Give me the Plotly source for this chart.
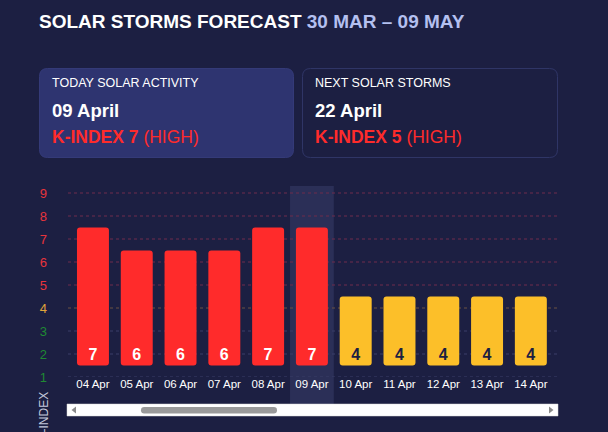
import plotly.graph_objects as go

# ---------------- data ----------------
dates = ["04 Apr", "05 Apr", "06 Apr", "07 Apr", "08 Apr", "09 Apr",
         "10 Apr", "11 Apr", "12 Apr", "13 Apr", "14 Apr"]
k_index = [7, 6, 6, 6, 7, 7, 4, 4, 4, 4, 4]
k_levels = [1, 2, 3, 4, 5, 6, 7, 8, 9]
today = "09 Apr"

title_main = "SOLAR STORMS FORECAST"
title_range = "30 MAR \u2013 09 MAY"
card1_head, card1_date, card1_k, card1_lvl = "TODAY SOLAR ACTIVITY", "09 April", 7, "HIGH"
card2_head, card2_date, card2_k, card2_lvl = "NEXT SOLAR STORMS", "22 April", 5, "HIGH"

# ---------------- styles ----------------
BG = "#1c1f42"
RED = "#ff2b2b"
YEL = "#fcbf29"
FONT = "Liberation Sans, Arial, sans-serif"


def level_color(k):
    if k >= 5:
        return "#e8343c"
    if k == 4:
        return "#e0a53a"
    return "#1f8a33"


def grid_color(k):
    if k >= 5:
        return "#6e2c4c"
    if k == 4:
        return "#6a5242"
    return "#3a3f68"


W, H = 608, 432
L, R, T, B = 68, 558, 186, 377   # plot area in pixels


def px(X):
    return (X - L) / (R - L)


def py(Y):
    return (B - Y) / (B - T)


def rrect(x0, y0, x1, y1, r):
    # rounded rectangle path in paper coords from pixel coords
    pts = [
        f"M {px(x0 + r)},{py(y0)}",
        f"L {px(x1 - r)},{py(y0)}",
        f"Q {px(x1)},{py(y0)} {px(x1)},{py(y0 + r)}",
        f"L {px(x1)},{py(y1 - r)}",
        f"Q {px(x1)},{py(y1)} {px(x1 - r)},{py(y1)}",
        f"L {px(x0 + r)},{py(y1)}",
        f"Q {px(x0)},{py(y1)} {px(x0)},{py(y1 - r)}",
        f"L {px(x0)},{py(y0 + r)}",
        f"Q {px(x0)},{py(y0)} {px(x0 + r)},{py(y0)}",
        "Z",
    ]
    return " ".join(pts)


bar_colors = [RED if v >= 5 else YEL for v in k_index]
text_colors = ["#ffffff" if v >= 5 else BG for v in k_index]

fig = go.Figure()
fig.add_trace(go.Bar(
    x=dates,
    y=[v - 1 for v in k_index],
    base=1,
    marker=dict(color=bar_colors, line=dict(width=0), cornerradius=3),
    width=0.73,
    text=[f"<b>{v}</b>" for v in k_index],
    textposition="inside",
    insidetextanchor="start",
    textangle=0,
    constraintext="none",
    textfont=dict(color=text_colors, size=16, family=FONT),
    hoverinfo="skip",
))

shapes = []
# highlight column for today
ti = dates.index(today)
shapes.append(dict(type="rect", xref="x", yref="paper", x0=ti - 0.5, x1=ti + 0.5,
                   y0=py(405), y1=1.0, fillcolor="#2b2f57",
                   line=dict(width=0), layer="below"))
# dotted grid lines
for k in k_levels:
    shapes.append(dict(type="line", xref="paper", yref="y", x0=0, x1=1,
                       y0=k - 0.5, y1=k - 0.5,
                       line=dict(color=grid_color(k), width=1, dash="dot"),
                       layer="below"))
# cards
shapes.append(dict(type="path", xref="paper", yref="paper",
                   path=rrect(39.5, 68.5, 293.5, 157.5, 8),
                   fillcolor="#2e3470", line=dict(color="#343a78", width=1)))
shapes.append(dict(type="path", xref="paper", yref="paper",
                   path=rrect(302.5, 68.5, 557.5, 157.5, 8),
                   fillcolor=BG, line=dict(color="#2f3566", width=1)))
# scrollbar
shapes.append(dict(type="rect", xref="paper", yref="paper",
                   x0=px(67), x1=px(558), y0=py(416), y1=py(404),
                   fillcolor="#ffffff", line=dict(color="#d8d8d8", width=0.5)))
shapes.append(dict(type="path", xref="paper", yref="paper",
                   path=rrect(141, 407, 277, 413.5, 3.2),
                   fillcolor="#9a9a9a", line=dict(width=0)))
shapes.append(dict(type="path", xref="paper", yref="paper",
                   path=f"M {px(76)},{py(406.5)} L {px(76)},{py(413.5)} L {px(71.5)},{py(410)} Z",
                   fillcolor="#8a8a8a", line=dict(width=0)))
shapes.append(dict(type="path", xref="paper", yref="paper",
                   path=f"M {px(549)},{py(406.5)} L {px(549)},{py(413.5)} L {px(553.5)},{py(410)} Z",
                   fillcolor="#8a8a8a", line=dict(width=0)))

ann = []


def text(X, Y, s, size, color="#ffffff", anchor="left"):
    ann.append(dict(xref="paper", yref="paper", x=px(X), y=py(Y), text=s,
                    showarrow=False, xanchor=anchor, yanchor="middle",
                    font=dict(family=FONT, size=size, color=color)))


text(37, 21.5, f"<b>{title_main} <span style='color:#b4c0f0'>{title_range}</span></b>", 19)
text(50, 83, card1_head, 12.5)
text(50, 110, f"<b>{card1_date}</b>", 18.5)
text(50, 137, f"<b>K-INDEX {card1_k}</b> ({card1_lvl})", 17.5, RED)
text(313, 83, card2_head, 12.5)
text(313, 110, f"<b>{card2_date}</b>", 18.5)
text(313, 137, f"<b>K-INDEX {card2_k}</b> ({card2_lvl})", 17.5, RED)

ann.append(dict(xref="paper", yref="paper", x=px(43), y=py(390), text="K-INDEX",
                showarrow=False, textangle=-90, xanchor="center", yanchor="top",
                font=dict(family=FONT, size=12, color="#c4c8dc")))

fig.update_layout(
    width=W, height=H,
    margin=dict(l=L, r=W - R, t=T, b=H - B, pad=0),
    paper_bgcolor=BG, plot_bgcolor=BG,
    showlegend=False,
    bargap=0.27,
    shapes=shapes,
    annotations=ann,
    font=dict(family=FONT),
    xaxis=dict(range=[-0.57, 10.62], showgrid=False, zeroline=False, showline=False,
               ticks="", tickfont=dict(size=11.5, color="#ffffff", family=FONT),
               ticklabelstandoff=-2, fixedrange=True),
    yaxis=dict(range=[0.5, 0.5 + (B - T) / 23], showgrid=False, zeroline=False,
               showline=False, ticks="",
               tickvals=[k - 0.5 for k in k_levels],
               ticktext=[f"<span style='color:{level_color(k)}'>{k}</span>" for k in k_levels],
               tickfont=dict(size=13, family=FONT),
               ticklabelstandoff=20, fixedrange=True),
)

fig.write_html("out.html", config={"displayModeBar": False})
